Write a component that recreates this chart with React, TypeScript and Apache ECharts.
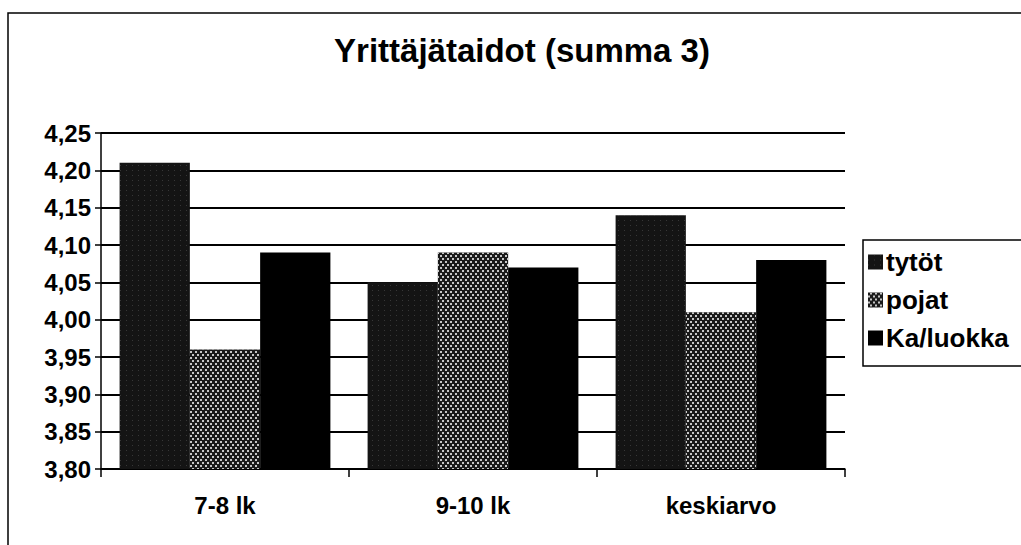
import React, { useEffect, useRef } from "react";
import * as echarts from "echarts";

const categories = ["7-8 lk", "9-10 lk", "keskiarvo"];
const seriesNames = ["tytöt", "pojat", "Ka/luokka"];
const tytot = [4.21, 4.05, 4.14];
const pojat = [3.96, 4.09, 4.01];
const kaLuokka = [4.09, 4.07, 4.08];
const titleText = "Yrittäjätaidot (summa 3)";

export default function App() {
  const ref = useRef<HTMLDivElement>(null);
  useEffect(() => {
    if (!ref.current) return;
    const chart = echarts.init(ref.current, null, { renderer: "svg" });
    const font = "'Liberation Sans', Arial, sans-serif";
    chart.setOption({
      animation: false,
      backgroundColor: "#ffffff",
      textStyle: { fontFamily: font },
      title: {
        text: titleText,
        left: 517,
        textAlign: "center",
        top: 29,
        textStyle: { fontSize: 33, fontWeight: "bold", color: "#000", fontFamily: font },
      },
      graphic: [
        {
          type: "rect",
          shape: { x: 8, y: 13, width: 1030, height: 560 },
          style: { fill: "none", stroke: "#000", lineWidth: 1.5 },
          silent: true,
        },
        {
          type: "rect",
          shape: { x: 863, y: 240, width: 170, height: 126 },
          style: { fill: "none", stroke: "#000", lineWidth: 1.5 },
          silent: true,
        },
      ],
      legend: {
        orient: "vertical",
        left: 868,
        top: 249,
        itemWidth: 15,
        itemHeight: 15,
        itemGap: 12,
        icon: "rect",
        padding: 0,
        textStyle: {
          fontSize: 26,
          fontWeight: "bold",
          color: "#000",
          fontFamily: font,
          padding: [0, 0, 0, -2],
        },
        data: seriesNames,
      },
      grid: { left: 101, top: 133, width: 744, height: 336, containLabel: false },
      xAxis: {
        type: "category",
        data: categories,
        axisLine: { lineStyle: { color: "#000", width: 1.5 } },
        axisTick: { show: true, length: 8, lineStyle: { color: "#000", width: 1.5 } },
        axisLabel: { fontSize: 24, fontWeight: "bold", color: "#000", margin: 24, fontFamily: font },
        splitLine: { show: false },
      },
      yAxis: {
        type: "value",
        min: 3.8,
        max: 4.25,
        interval: 0.05,
        axisLine: { show: true, lineStyle: { color: "#000", width: 1.5 } },
        axisTick: { show: true, length: 6, lineStyle: { color: "#000", width: 1.5 } },
        axisLabel: {
          fontSize: 24,
          fontWeight: "bold",
          color: "#000",
          margin: 10,
          fontFamily: font,
          formatter: (v: number) => v.toFixed(2).replace(".", ","),
        },
        splitLine: { show: true, lineStyle: { color: "#000", width: 2 } },
      },
      series: [
        {
          name: seriesNames[0],
          type: "bar",
          data: tytot,
          barGap: "0%",
          barCategoryGap: "15%",
          itemStyle: {
            color: "#141414",
            decal: {
              symbol: "rect",
              symbolSize: 1,
              color: "rgba(120,120,120,0.35)",
              dashArrayX: [1, 5],
              dashArrayY: [1, 4],
              rotation: 0,
            },
          },
        },
        {
          name: seriesNames[1],
          type: "bar",
          data: pojat,
          itemStyle: {
            color: "#1a1a1a",
            decal: {
              symbol: "rect",
              symbolSize: 1,
              color: "#c8c8c8",
              dashArrayX: [[1.5, 2.5], [0, 2, 1.5, 0.5]],
              dashArrayY: [1.5, 0.5],
              rotation: 0,
            },
          },
        },
        {
          name: seriesNames[2],
          type: "bar",
          data: kaLuokka,
          itemStyle: { color: "#000000" },
        },
      ],
    });
    return () => chart.dispose();
  }, []);
  return (
    <div
      ref={ref}
      style={{ position: "fixed", left: 0, top: 0, width: 1021, height: 545 }}
    />
  );
}
